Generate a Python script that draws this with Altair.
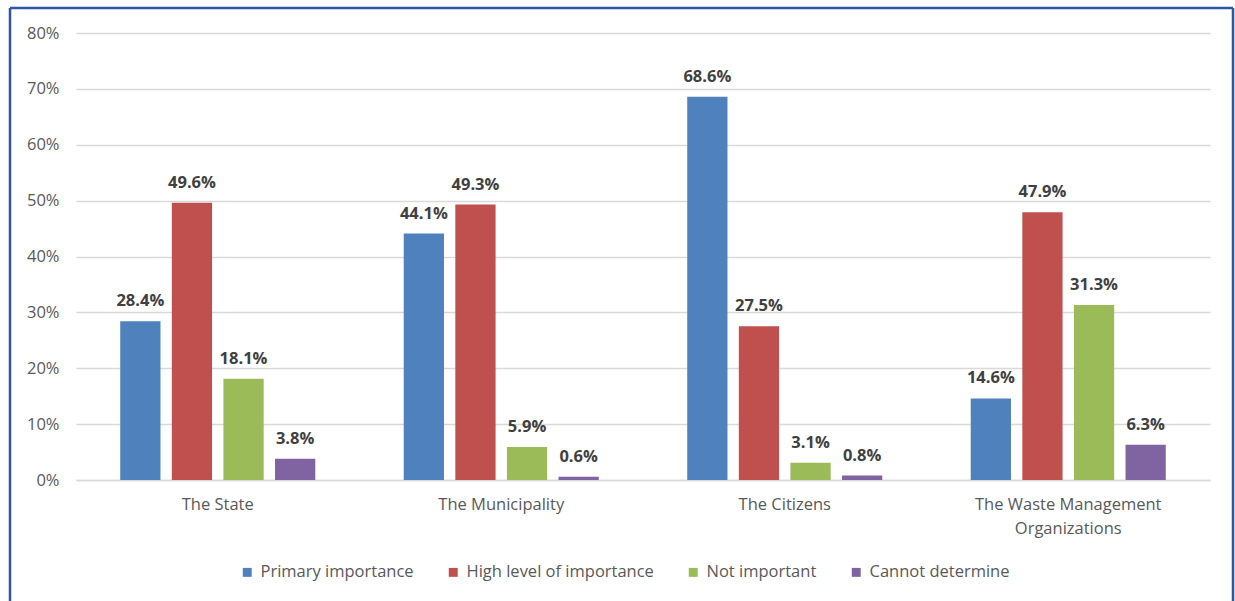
import altair as alt
import pandas as pd

categories = ["The State", "The Municipality", "The Citizens", "The Waste Management Organizations"]
series = ["Primary importance", "High level of importance", "Not important", "Cannot determine"]
colors = ["#4f81bd", "#c0504d", "#9bbb59", "#8064a2"]
primary = [28.4, 44.1, 68.6, 14.6]
high = [49.6, 49.3, 27.5, 47.9]
notimp = [18.1, 5.9, 3.1, 31.3]
cannot = [3.8, 0.6, 0.8, 6.3]
y_ticks = [0, 10, 20, 30, 40, 50, 60, 70, 80]

rows = []
for s, vals in zip(series, [primary, high, notimp, cannot]):
    for c, v in zip(categories, vals):
        rows.append({"category": c, "series": s, "value": v / 100.0,
                     "label": f"{v:.1f}%"})
df = pd.DataFrame(rows)

W, H = 1134, 447
FONT = "Open Sans"
FS = 16.5

x = alt.X("category:N", sort=categories, title=None,
          scale=alt.Scale(paddingInner=0.312, paddingOuter=0.156),
          axis=alt.Axis(labelAngle=0, labelColor="#595959", labelFontSize=FS,
                        labelFont=FONT, ticks=False, domain=True,
                        domainColor="#d9d9d9", domainWidth=1.5, labelPadding=16,
                        labelLineHeight=24, labelLimit=400,
                        labelExpr="datum.label == 'The Waste Management Organizations' ? ['The Waste Management', 'Organizations'] : datum.label"))
xo = alt.XOffset("series:N", sort=series,
                 scale=alt.Scale(paddingInner=0.22, paddingOuter=0))
y = alt.Y("value:Q", title=None,
          scale=alt.Scale(domain=[0, 0.8], nice=False),
          axis=alt.Axis(format=".0%", values=[t / 100 for t in y_ticks],
                        labelColor="#595959", labelFontSize=FS, labelFont=FONT,
                        ticks=False, domain=False, gridColor="#d9d9d9",
                        gridWidth=1.5, labelPadding=17))
color = alt.Color("series:N", sort=series,
                  scale=alt.Scale(domain=series, range=colors),
                  legend=alt.Legend(title=None, orient="none", direction="horizontal",
                                    columns=4, legendX=163, legendY=531,
                                    symbolType="square", symbolSize=80,
                                    symbolStrokeWidth=0, labelFontSize=FS,
                                    labelFont=FONT, labelColor="#595959",
                                    labelLimit=400, columnPadding=31, labelOffset=5))

base = alt.Chart(df)
bars = base.mark_bar().encode(x=x, xOffset=xo, y=y, color=color)
labels = base.mark_text(baseline="bottom", dy=-12, fontSize=16.5, fontWeight="bold",
                        font=FONT, color="#404040").encode(
    x=x, xOffset=xo, y=y, text="label:N")

border_df = pd.DataFrame({"k": [1]})
bstyle = dict(color="#2f55a4", strokeWidth=2.5)
b_left = alt.Chart(border_df).mark_rule(**bstyle).encode(
    x=alt.value(-66), y=alt.value(-25), y2=alt.value(H + 130))
b_top = alt.Chart(border_df).mark_rule(**bstyle).encode(
    x=alt.value(-66), x2=alt.value(1157), y=alt.value(-25))
b_right = alt.Chart(border_df).mark_rule(**bstyle).encode(
    x=alt.value(1157), y=alt.value(-25), y2=alt.value(H + 130))

chart = alt.layer(bars, labels, b_left, b_top, b_right).properties(
    width=W, height=H,
    padding={"left": 76, "top": 33, "right": 25, "bottom": 121},
    autosize=alt.AutoSizeParams(type="none"),
    background="white",
).configure_view(stroke=None)

chart.save("out.html", embed_options={"renderer": "svg", "actions": False})
